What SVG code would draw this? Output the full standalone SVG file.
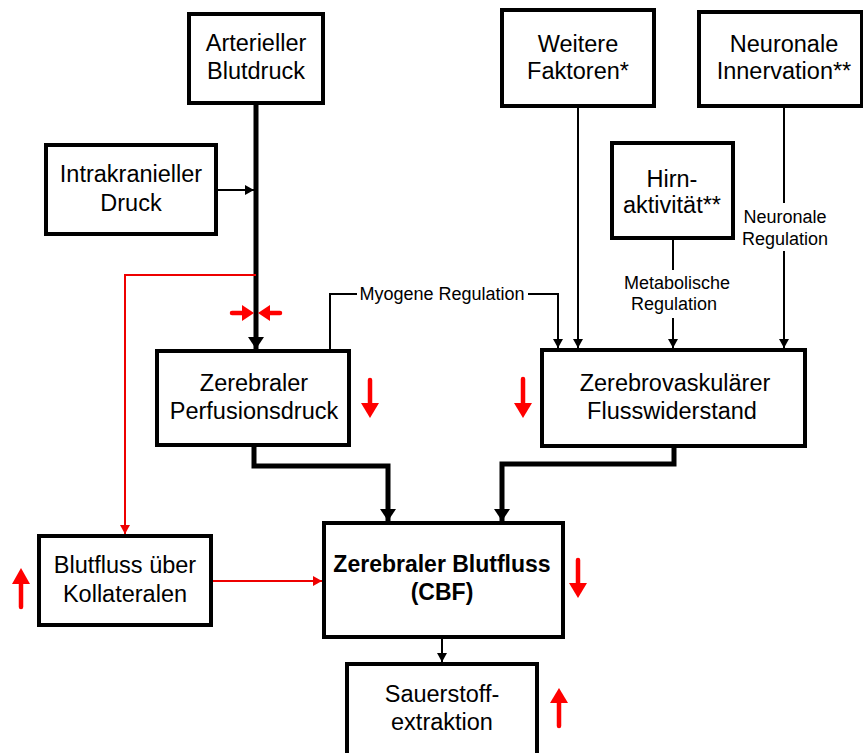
<svg xmlns="http://www.w3.org/2000/svg" width="863" height="753" viewBox="0 0 863 753">
<style>
.box{fill:#fff;stroke:#000;stroke-width:4}
.t{font-family:"Liberation Sans",Arial,sans-serif;font-size:23.5px;text-anchor:middle;fill:#000}
.b{font-family:"Liberation Sans",Arial,sans-serif;font-size:23px;font-weight:bold;text-anchor:middle;fill:#000}
.l{font-family:"Liberation Sans",Arial,sans-serif;font-size:18px;text-anchor:middle;fill:#000}
.thick{fill:none;stroke:#000;stroke-width:5}
.thin{fill:none;stroke:#000;stroke-width:2}
.red{fill:none;stroke:#e00;stroke-width:2}
.redk{fill:none;stroke:#f00;stroke-width:4.5;stroke-linecap:round}
.rh{fill:#f00}
</style>
<defs>
<marker id="ak" markerUnits="userSpaceOnUse" markerWidth="18" markerHeight="18" refX="12" refY="8" orient="auto"><path d="M0,0 L12,8 L0,16 z" fill="#000"/></marker>
<marker id="an" markerUnits="userSpaceOnUse" markerWidth="12" markerHeight="12" refX="9" refY="6" orient="auto"><path d="M0,1 L9,6 L0,11 z" fill="#000"/></marker>
<marker id="ar" markerUnits="userSpaceOnUse" markerWidth="12" markerHeight="12" refX="9" refY="6" orient="auto"><path d="M0,1 L9,6 L0,11 z" fill="#e00"/></marker>
</defs>
<g id="connectors">
<path class="thick" d="M256,103 V349" marker-end="url(#ak)"/>
<path class="thin" d="M216,190 H254" marker-end="url(#an)"/>
<path class="red" d="M256,275 H125 V534" marker-end="url(#ar)"/>
<path class="thin" d="M330,350 V294 H357 M528,294 H558 V348" marker-end="url(#an)"/>
<path class="thin" d="M578,106 V348" marker-end="url(#an)"/>
<path class="thin" d="M673,238 V270 M673,318 V348" marker-end="url(#an)"/>
<path class="thin" d="M784,106 V203 M784,251 V348" marker-end="url(#an)"/>
<path class="thick" d="M254,445 V466 H388 V521" marker-end="url(#ak)"/>
<path class="thick" d="M674,446 V464 H502 V521" marker-end="url(#ak)"/>
<path class="red" d="M211,581 H322" marker-end="url(#ar)"/>
<path class="thin" d="M442,637 V662" marker-end="url(#an)"/>
</g>
<g id="indicators">
<path class="redk" d="M232,313 H245"/><path class="rh" d="M242,305 L254,313 L242,321 z"/>
<path class="redk" d="M280,313 H267"/><path class="rh" d="M270,305 L258,313 L270,321 z"/>
<path class="redk" d="M370,380 V405"/><path class="rh" d="M361,403 L379,403 L370,418 z"/>
<path class="redk" d="M523,379 V405"/><path class="rh" d="M514,403 L532,403 L523,418 z"/>
<path class="redk" d="M578,560 V585"/><path class="rh" d="M569,583 L587,583 L578,598 z"/>
<path class="redk" d="M21,607 V582"/><path class="rh" d="M12,584 L30,584 L21,568 z"/>
<path class="redk" d="M559,726 V701"/><path class="rh" d="M550,703 L568,703 L559,688 z"/>
</g>
<g id="arterieller">
<rect class="box" x="189" y="14" width="134" height="89"/>
<text class="t" x="256" y="51">Arterieller</text>
<text class="t" x="256" y="79">Blutdruck</text>
</g>
<g id="intrakraniell">
<rect class="box" x="46" y="145" width="170" height="89"/>
<text class="t" x="131" y="182">Intrakranieller</text>
<text class="t" x="131" y="211">Druck</text>
</g>
<g id="weitere">
<rect class="box" x="502" y="10" width="152" height="96"/>
<text class="t" x="578" y="52">Weitere</text>
<text class="t" x="578" y="79">Faktoren*</text>
</g>
<g id="neuronale">
<rect class="box" x="699" y="12" width="163" height="94"/>
<text class="t" x="784" y="52">Neuronale</text>
<text class="t" x="784" y="79">Innervation**</text>
</g>
<g id="hirn">
<rect class="box" x="612" y="143" width="121" height="95"/>
<text class="t" x="672" y="187">Hirn-</text>
<text class="t" x="672" y="213">aktivität**</text>
</g>
<g id="labels">
<text class="l" x="442" y="300">Myogene Regulation</text>
<text class="l" x="785" y="223">Neuronale</text>
<text class="l" x="785" y="245">Regulation</text>
<text class="l" x="677" y="289">Metabolische</text>
<text class="l" x="674" y="310">Regulation</text>
</g>
<g id="cpp">
<rect class="box" x="157" y="351" width="192" height="94"/>
<text class="t" x="254" y="391">Zerebraler</text>
<text class="t" x="254" y="419">Perfusionsdruck</text>
</g>
<g id="cvr">
<rect class="box" x="542" y="350" width="263" height="96"/>
<text class="t" x="675" y="391">Zerebrovaskulärer</text>
<text class="t" x="672" y="419">Flusswiderstand</text>
</g>
<g id="kollateralen">
<rect class="box" x="39" y="536" width="172" height="89"/>
<text class="t" x="125" y="573">Blutfluss über</text>
<text class="t" x="125" y="602">Kollateralen</text>
</g>
<g id="cbf">
<rect class="box" x="324" y="523" width="239" height="114"/>
<text class="b" x="442" y="572">Zerebraler Blutfluss</text>
<text class="b" x="442" y="600">(CBF)</text>
</g>
<g id="sauerstoff">
<rect class="box" x="347" y="664" width="190" height="100"/>
<text class="t" x="442" y="702">Sauerstoff-</text>
<text class="t" x="442" y="730">extraktion</text>
</g>
</svg>
